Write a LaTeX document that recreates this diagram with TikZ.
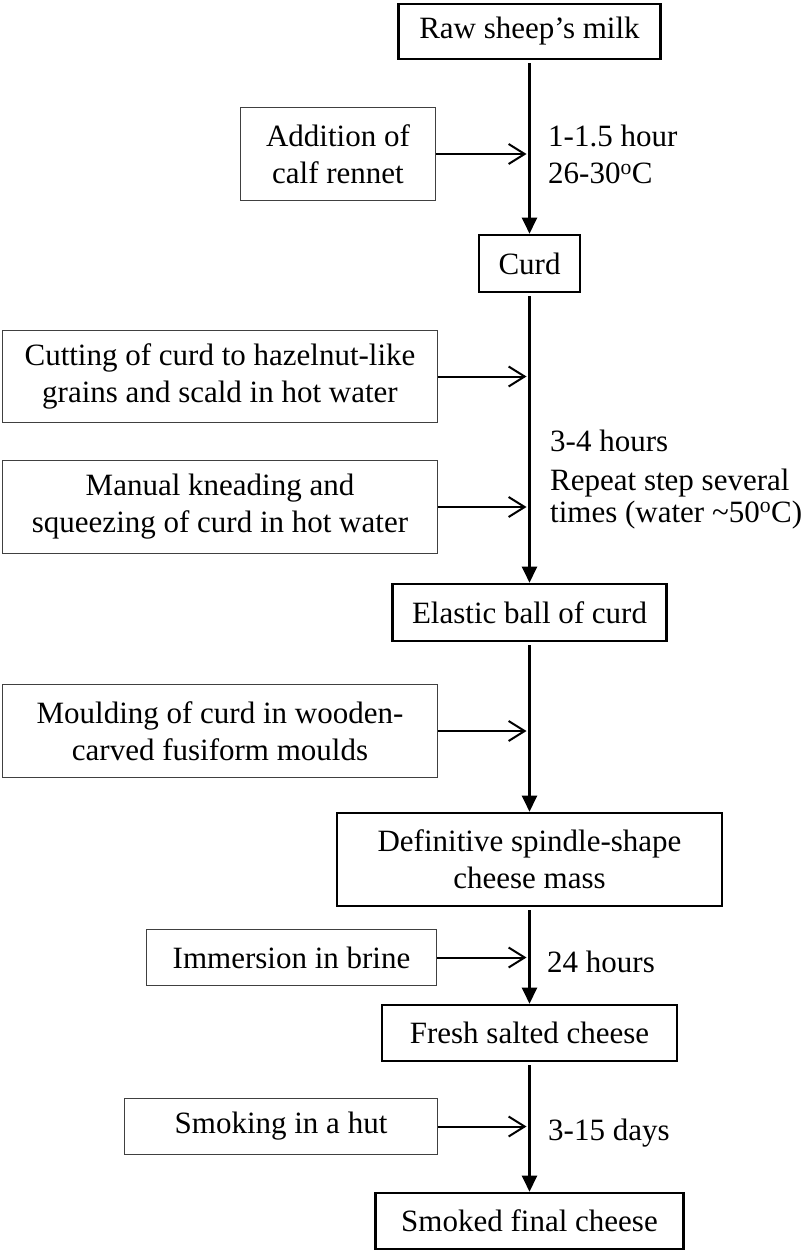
\documentclass[tikz,border=0pt]{standalone}
\usepackage{fontspec}
\setmainfont{Liberation Serif}
\usetikzlibrary{arrows.meta}
\begin{document}
\begin{tikzpicture}[x=1pt,y=-1pt,
  txt/.style={font=\fontsize{31}{37}\selectfont},
  mainbox/.style={txt,draw=black,line width=2.6pt,inner sep=0pt,align=center},
  sidebox/.style={txt,draw=black!75,line width=1.4pt,inner sep=0pt,align=center},
  lbl/.style={txt,inner sep=0pt,anchor=base west},
  flow/.style={line width=2.3pt,-{Triangle[length=16pt,width=15pt]},shorten <=3pt},
  feed/.style={line width=2pt,-{Straight Barb[length=16pt,width=20pt]},shorten >=3pt}
]
\useasboundingbox (0,0) rectangle (800,1252);
% main column
\node[mainbox,minimum width=262pt,minimum height=55pt] (raw) at (529.5,31.5) {Raw sheep’s milk};
\node[mainbox,minimum width=101pt,minimum height=57pt] (curd) at (529.5,263.5) {Curd};
\node[mainbox,minimum width=274pt,minimum height=57pt] (ball) at (529.5,612.5) {Elastic ball of curd};
\node[mainbox,minimum width=385pt,minimum height=93pt] (mass) at (529.5,859.5) {Definitive spindle-shape\\cheese mass};
\node[mainbox,minimum width=295pt,minimum height=56pt] (fresh) at (529.5,1033) {Fresh salted cheese};
\node[mainbox,minimum width=308pt,minimum height=56pt] (final) at (529.5,1221) {Smoked final cheese};
% side inputs
\node[sidebox,minimum width=195pt,minimum height=93pt] (add) at (338,154) {Addition of\\calf rennet};
\node[sidebox,minimum width=435pt,minimum height=92pt] (cut) at (220,376.5) {Cutting of curd to hazelnut-like\\grains and scald in hot water};
\node[sidebox,minimum width=435pt,minimum height=93pt] (knead) at (220,507) {Manual kneading and\\squeezing of curd in hot water};
\node[sidebox,minimum width=435pt,minimum height=93pt] (mould) at (220,731) {Moulding of curd in wooden-\\carved fusiform moulds};
\node[sidebox,minimum width=290pt,minimum height=56pt] (brine) at (291.5,957.5) {Immersion in brine};
\node[sidebox,minimum width=313pt,minimum height=56pt] (smoke) at (281,1126.5) {Smoking in a hut};
% labels
\node[lbl] (t1) at (548,147) {1-1.5 hour};
\node[lbl] (t2) at (548,184) {26-30\textsuperscript{o}C};
\node[lbl] (t3) at (550,451) {3-4 hours};
\node[lbl] (t4) at (550,490) {Repeat step several};
\node[lbl] (t5) at (550,522) {times (water \textasciitilde50\textsuperscript{o}C)};
\node[lbl] (t6) at (547,972) {24 hours};
\node[lbl] (t7) at (548,1140) {3-15 days};
% vertical flow
\draw[flow] (raw) -- (curd);
\draw[flow] (curd) -- (ball);
\draw[flow] (ball) -- (mass);
\draw[flow] (mass) -- (fresh);
\draw[flow] (fresh) -- (final);
% side arrows
\draw[feed] (add) -- (add -| raw);
\draw[feed] (cut) -- (cut -| raw);
\draw[feed] (knead) -- (knead -| raw);
\draw[feed] (mould) -- (mould -| raw);
\draw[feed] (brine) -- (brine -| raw);
\draw[feed] (smoke) -- (smoke -| raw);
\end{tikzpicture}
\end{document}
